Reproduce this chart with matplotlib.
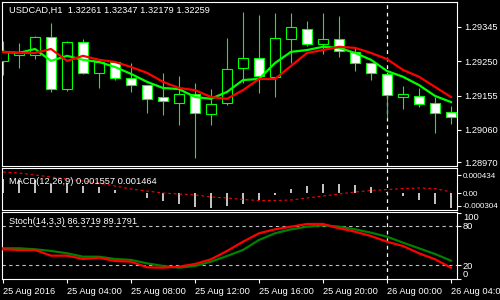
import matplotlib
matplotlib.use("Agg")
import matplotlib.pyplot as plt
from matplotlib.patches import Rectangle
import numpy as np

plt.rcParams['font.family'] = ['Liberation Sans', 'DejaVu Sans']
plt.rcParams['axes.unicode_minus'] = False

# ---------------- data ----------------
opens  = [1.29251, 1.29267, 1.29267, 1.29317, 1.29173, 1.29303, 1.29218, 1.29248,
          1.29204, 1.29184, 1.29151, 1.29134, 1.29159, 1.29104, 1.29134, 1.29231,
          1.29259, 1.29207, 1.29312, 1.29339, 1.29298, 1.29312, 1.29276, 1.29245,
          1.29215, 1.29151, 1.29154, 1.29134, 1.29110]
highs  = [1.29306, 1.29301, 1.29320, 1.29356, 1.29306, 1.29312, 1.29251, 1.29251,
          1.29245, 1.29184, 1.29218, 1.29209, 1.29190, 1.29173, 1.29315, 1.29387,
          1.29378, 1.29384, 1.29384, 1.29362, 1.29384, 1.29375, 1.29290, 1.29245,
          1.29218, 1.29182, 1.29176, 1.29151, 1.29126]
lows   = [1.29212, 1.29231, 1.29256, 1.29165, 1.29168, 1.29215, 1.29176, 1.29198,
          1.29165, 1.29107, 1.29101, 1.29073, 1.28982, 1.29073, 1.29129, 1.29190,
          1.29162, 1.29151, 1.29245, 1.29292, 1.29270, 1.29262, 1.29223, 1.29198,
          1.29093, 1.29118, 1.29123, 1.29051, 1.29076]
closes = [1.29279, 1.29273, 1.29317, 1.29173, 1.29303, 1.29218, 1.29248, 1.29204,
          1.29184, 1.29146, 1.29140, 1.29159, 1.29107, 1.29132, 1.29229, 1.29259,
          1.29209, 1.29315, 1.29345, 1.29298, 1.29312, 1.29279, 1.29245, 1.29218,
          1.29157, 1.29159, 1.29132, 1.29107, 1.29096]

ma_fast = [1.29276, 1.29273, 1.29284, 1.29251, 1.29265, 1.29254, 1.29248, 1.29234,
           1.29215, 1.29193, 1.29176, 1.29173, 1.29151, 1.29146, 1.29165, 1.29198,
           1.29201, 1.29245, 1.29276, 1.29281, 1.29290, 1.29287, 1.29273, 1.29254,
           1.29223, 1.29207, 1.29184, 1.29154, 1.29137]
ma_slow = [1.29276, 1.29273, 1.29273, 1.29284, 1.29251, 1.29265, 1.29254, 1.29248,
           1.29234, 1.29218, 1.29193, 1.29176, 1.29170, 1.29151, 1.29146, 1.29170,
           1.29201, 1.29201, 1.29237, 1.29273, 1.29281, 1.29290, 1.29287, 1.29273,
           1.29256, 1.29226, 1.29207, 1.29179, 1.29151]

macd_hist = [0.000337, 0.000313, 0.000313, 0.000217, 0.000241, 0.000169, 0.000145, 0.000072,
             -0.000012, -0.000121, -0.000193, -0.000265, -0.000337, -0.000362, -0.000313, -0.000265,
             -0.000169, -0.000048, 0.000096, 0.000169, 0.000217, 0.000217, 0.000193, 0.000145,
             0.000030, -0.000072, -0.000169, -0.000265, -0.000362]
macd_signal = [0.000506, 0.000482, 0.000434, 0.000386, 0.000337, 0.000289, 0.000241, 0.000169,
               0.000096, 0.000048, 0.000000, -0.000024, -0.000048, -0.000096, -0.000121, -0.000157,
               -0.000181, -0.000181, -0.000169, -0.000121, -0.000072, -0.000024, 0.000024, 0.000060,
               0.000084, 0.000108, 0.000121, 0.000108, 0.000024]

stoch_main = [44.4, 43.4, 43.4, 34.8, 34.8, 29.8, 31.8, 26.7, 25.7, 17.2, 16.6, 18.1, 22.2, 29.3,
              41.9, 55.9, 68.6, 74.6, 78.6, 82.7, 82.7, 76.2, 71.1, 64.5, 55.9, 49.4, 38.4, 29.3, 16.6]
stoch_signal = [45.9, 45.9, 44.4, 41.9, 38.4, 33.2, 33.2, 29.8, 28.3, 23.2, 19.2, 16.6, 19.2, 25.7,
                34.3, 43.4, 58.5, 68.6, 74.6, 78.6, 80.7, 78.6, 74.6, 69.5, 63.5, 54.4, 45.9, 37.3, 27.2]

price_ticks = [1.29345, 1.29250, 1.29155, 1.29060, 1.28970]
price_labels = ['1.29345', '1.29250', '1.29155', '1.29060', '1.28970']
macd_ticks = [0.000434, 0.0, -0.000304]
macd_labels = ['0.000434', '0.00', '-0.000304']
stoch_ticks = [100, 80, 20, 0]
stoch_labels = ['100', '80', '20', '0']
time_ticks = [0, 4, 8, 12, 16, 20, 24, 28]
time_labels = ['25 Aug 2016', '25 Aug 04:00', '25 Aug 08:00', '25 Aug 12:00',
               '25 Aug 16:00', '25 Aug 20:00', '26 Aug 00:00', '26 Aug 04:00']
separator_index = 24

title = 'USDCAD,H1  1.32261 1.32347 1.32179 1.32259'
macd_title = 'MACD(12,26,9) 0.001557 0.001464'
stoch_title = 'Stoch(14,3,3) 86.3719 89.1791'

# ---------------- figure ----------------
W, H = 500, 300
fig = plt.figure(figsize=(5, 3), dpi=100, facecolor='black')

def px_axes(x0, y0, x1, y1):
    return fig.add_axes([x0 / W, 1 - y1 / H, (x1 - x0) / W, (y1 - y0) / H], facecolor='black')

ax1 = px_axes(2, 2, 457, 166)
ax2 = px_axes(2, 168, 457, 210)
ax3 = px_axes(2, 212, 457, 279)

FS = 6.7
x = np.arange(len(opens))
xlim = (-0.0625, 28.375)

for ax in (ax1, ax2, ax3):
    ax.set_xlim(*xlim)
    for s in ax.spines.values():
        s.set_color('white')
        s.set_linewidth(0.8)
    ax.yaxis.tick_right()
    ax.tick_params(axis='y', colors='white', labelcolor='white', labelsize=FS,
                   length=3, width=0.8, pad=2, direction='out')
    ax.tick_params(axis='x', colors='white', labelcolor='white', labelsize=FS,
                   length=3, width=0.8, direction='out')
    ax.axvline(separator_index, color='white', lw=0.9, ls=(0, (3, 3)), zorder=1)

# main candles
for i in range(len(opens)):
    o, h, l, c = opens[i], highs[i], lows[i], closes[i]
    ax1.plot([x[i], x[i]], [l, h], color='#00FF00', lw=0.8, zorder=2, solid_capstyle='butt')
    bull = c >= o
    bottom = min(o, c)
    height = max(abs(c - o), 0.000012)
    ax1.add_patch(Rectangle((x[i] - 0.32, bottom), 0.64, height,
                            facecolor='black' if bull else 'white',
                            edgecolor='#00FF00', lw=0.8, zorder=3))
ax1.plot(x, ma_fast, color='#00FF00', lw=1.6, zorder=4)
ax1.plot(x, ma_slow, color='#FF0000', lw=1.6, zorder=5)
ax1.set_ylim(1.28960, 1.29414)
ax1.set_yticks(price_ticks)
ax1.set_yticklabels(price_labels)
ax1.set_xticks([])
ax1.text(7 / 455, 1 - (10.7 - 2) / 164, title, transform=ax1.transAxes, color='white',
         fontsize=FS, va='center', ha='left', zorder=6)

# MACD
ax2.bar(x, macd_hist, width=0.14, color='#C0C0C0', zorder=2)
ax2.plot(x, macd_signal, color='#FF0000', lw=0.8, ls=(0, (2.5, 2.5)), zorder=3)
ax2.set_ylim(-0.00041, 0.000603)
ax2.set_yticks(macd_ticks)
ax2.set_yticklabels(macd_labels)
ax2.tick_params(axis='y', labelsize=5.8, pad=1.0)
ax2.set_xticks([])
ax2.text(7 / 455, 1 - (181.7 - 168) / 42, macd_title, transform=ax2.transAxes, color='white',
         fontsize=FS, va='center', ha='left', zorder=6)

# Stochastic
ax3.axhline(80, color='#C0C0C0', lw=0.8, ls=(0, (3, 3)), zorder=1)
ax3.axhline(20, color='#C0C0C0', lw=0.8, ls=(0, (3, 3)), zorder=1)
ax3.plot(x, stoch_signal, color='#008000', lw=1.6, zorder=3)
ax3.plot(x, stoch_main, color='#FF0000', lw=1.6, zorder=4)
ax3.set_ylim(-0.5, 100.8)
ax3.set_yticks(stoch_ticks)
ax3.set_yticklabels(stoch_labels)
ax3.tick_params(axis='y', pad=1.2)
labs = ax3.get_yticklabels()
labs[0].set_va('top')
labs[3].set_va('bottom')
ax3.set_xticks(time_ticks)
ax3.set_xticklabels(time_labels)
for t in ax3.get_xticklabels():
    t.set_ha('left')
ax3.tick_params(axis='x', pad=3)
ax3.text(7 / 455, 1 - (221.7 - 212) / 67, stoch_title, transform=ax3.transAxes, color='white',
         fontsize=FS, va='center', ha='left', zorder=6)

fig.savefig('out.png', dpi=100, facecolor='black')
